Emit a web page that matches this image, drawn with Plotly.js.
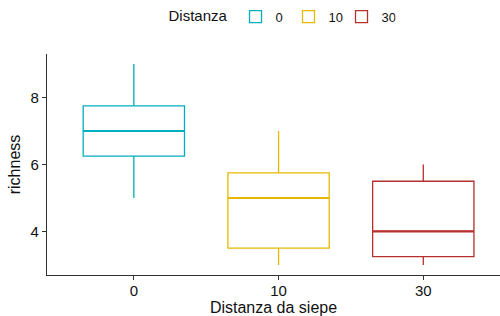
<!DOCTYPE html>
<html><head><meta charset="utf-8">
<script src="https://cdn.plot.ly/plotly-3.0.1.min.js"></script>
<style>html,body{margin:0;padding:0;background:#fff}#chart{width:500px;height:316px}</style>
</head><body><div id="chart"></div>
<script>
const categories = ["0", "10", "30"];
const lowerWhisker = [5, 3, 3];
const q1 = [6.25, 3.5, 3.25];
const medians = [7, 5, 4];
const q3 = [7.75, 5.75, 5.5];
const upperWhisker = [9, 7, 6];
const colors = ["#00AFBB", "#E7B800", "#B5312B"];

const traces = categories.map((c, i) => ({
  type: "box",
  name: c,
  x: [c],
  q1: [q1[i]], median: [medians[i]], q3: [q3[i]],
  lowerfence: [lowerWhisker[i]], upperfence: [upperWhisker[i]],
  width: 0.7,
  whiskerwidth: 0,
  fillcolor: "rgba(255,255,255,0)",
  line: {color: colors[i], width: 1.3},
  boxpoints: false,
  hoverinfo: "skip"
}));

// thicker median lines like ggplot
const shapes = categories.map((c, i) => ({
  type: "line", xref: "x", yref: "y",
  x0: i - 0.35, x1: i + 0.35, y0: medians[i], y1: medians[i],
  line: {color: colors[i], width: 2.2}
}));

const layout = {
  width: 500, height: 316,
  margin: {l: 47, r: 0, t: 54, b: 41},
  paper_bgcolor: "#fff", plot_bgcolor: "#fff",
  font: {family: "Liberation Sans, Arial, sans-serif", color: "#111", size: 13},
  boxmode: "overlay",
  showlegend: true,
  legend: {
    orientation: "h", xref: "container", yref: "container",
    x: 0.562, xanchor: "center", y: 0.995, yanchor: "top",
    title: {text: "Distanza", side: "left", font: {size: 15}},
    font: {size: 13}, itemwidth: 30, tracegroupgap: 0,
    entrywidth: 8, entrywidthmode: "pixels"
  },
  xaxis: {
    type: "category", categoryorder: "array", categoryarray: categories,
    range: [-0.6, 2.53],
    showline: true, linecolor: "#333", linewidth: 1.2,
    ticks: "outside", ticklen: 4, tickcolor: "#333", tickwidth: 1.2,
    ticklabelstandoff: -2,
    showgrid: false, zeroline: false,
    tickfont: {size: 15},
    title: {text: "Distanza da siepe", font: {size: 16}, standoff: 9}
  },
  yaxis: {
    range: [2.7, 9.3],
    tickvals: [4, 6, 8],
    showline: true, linecolor: "#333", linewidth: 1.2,
    ticks: "outside", ticklen: 4, tickcolor: "#333", tickwidth: 1.2,
    showgrid: false, zeroline: false,
    tickfont: {size: 15},
    title: {text: "richness", font: {size: 16}, standoff: 5}
  },
  shapes: shapes
};

Plotly.newPlot("chart", traces, layout, {displayModeBar: false, staticPlot: true});
</script></body></html>
